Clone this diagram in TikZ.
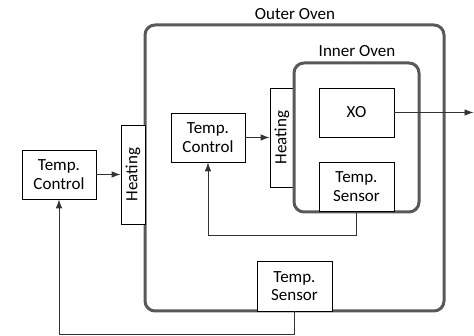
\documentclass[tikz,border=0pt]{standalone}
\usepackage{fontspec}
\setmainfont{Carlito}
\usepackage{tikz}
\usetikzlibrary{arrows.meta,positioning}

\begin{document}
\begin{tikzpicture}[x=1pt,y=-1pt,
    font=\fontsize{17}{18.5}\selectfont,
    box/.style={draw=black, line width=0.8pt, fill=white, align=center, inner sep=0pt},
    heater/.style={box, minimum width=24pt, minimum height=99pt},
    oven/.style={draw=black!65, line width=3pt, rounded corners=10pt, inner sep=0pt},
    link/.style={draw=black!80, line width=0.8pt},
    arr/.style={link, -{Latex[length=9pt,width=6.5pt]}}]
  \useasboundingbox (0,0) rectangle (474,336);

  \node[oven, minimum width=299pt, minimum height=286pt] (outer) at (294.5,168) {};
  \node (outerlbl) at (295,14) {Outer Oven};

  \node[box, minimum width=74pt, minimum height=49pt] (ctlout) at (59,174.5) {Temp.\\Control};
  \node[heater] (heatout) at (133,174.5) {\rotatebox{90}{Heating}};
  \node[box, minimum width=75pt, minimum height=50pt] (sensout) at (294.5,286) {Temp.\\Sensor};

  \node[box, minimum width=74pt, minimum height=49pt] (ctlin) at (208,137.5) {Temp.\\Control};
  \node[heater] (heatin) at (282,137.5) {\rotatebox{90}{Heating}};

  \node[oven, minimum width=125pt, minimum height=149pt] (inner) at (356.5,137.5) {};
  \node (innerlbl) at (357,51) {Inner Oven};

  \node[box, minimum width=75pt, minimum height=49pt] (xo) at (356.5,112.5) {XO};
  \node[box, minimum width=75pt, minimum height=49pt] (sensin) at (356.5,186.5) {Temp.\\Sensor};
  \coordinate (out) at (473.5,112.5);

  \draw[arr] (ctlout.east) -- (heatout.west);
  \draw[arr] (ctlin.east) -- (heatin.west);
  \draw[arr] (xo.east) -- (out);
  \draw[arr] (sensin.south) -- ++(0,24) -| (ctlin.south);
  \draw[arr] (sensout.south) -- ++(0,23.5) -| (ctlout.south);
\end{tikzpicture}
\end{document}
